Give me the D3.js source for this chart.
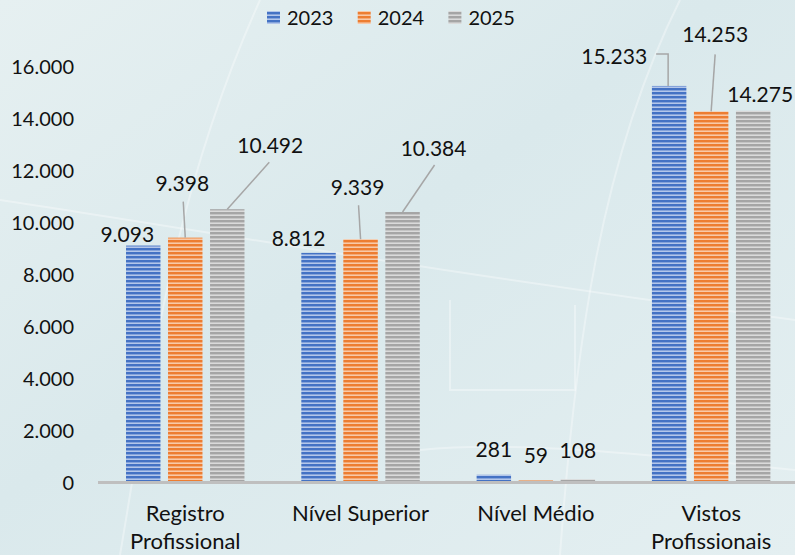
<!DOCTYPE html>
<html>
<head>
<meta charset="utf-8">
<script src="https://cdn.jsdelivr.net/npm/d3@7"></script>
<style>
  html, body { margin: 0; padding: 0; }
  body { width: 795px; height: 555px; overflow: hidden; }
  svg { display: block; font-family: Lato, "Open Sans", sans-serif; }
</style>
</head>
<body>
<svg id="chart" width="795" height="555"></svg>
<script>
// ---- data ----
const categories = [["Registro", "Profissional"], ["Nível Superior"], ["Nível Médio"], ["Vistos", "Profissionais"]];
const categoryKeys = ["Registro Profissional", "Nível Superior", "Nível Médio", "Vistos Profissionais"];
const seriesNames = ["2023", "2024", "2025"];
const values2023 = [9093, 8812, 281, 15233];
const values2024 = [9398, 9339, 59, 14253];
const values2025 = [10492, 10384, 108, 14275];
const yTicks = [0, 2000, 4000, 6000, 8000, 10000, 12000, 14000, 16000];

// label placement (offset of label centre from bar top-centre) and leader lines
const labelOffsets = [
  [[-16, -11], [-3, -54], [43, -64]],
  [[-20, -14], [-3, -52], [31, -64]],
  [[0, -25], [0, -25], [0, -29]],
  [[-55, -30], [4, -77], [7, -16]]
];
// leader start relative to label centre; null = no leader; elbow = horizontal then vertical
const leaders = [
  [null, [1, 18], [-1, 17]],
  [null, [1, 18], [1, 17]],
  [null, null, null],
  [{ elbow: true, start: [42, -2] }, [0, 20], null]
];

const seriesValues = [values2023, values2024, values2025];
const colors = ["#4472c4", "#ed7d31", "#a5a5a5"];
const lightColors = ["#b3c6ea", "#f8c9a8", "#dadada"];

const svg = d3.select("#chart");
const W = 795, H = 555;
const defs = svg.append("defs");

// background gradient
const bg = defs.append("linearGradient").attr("id", "bg")
  .attr("x1", "0").attr("y1", "0").attr("x2", "1").attr("y2", "1");
bg.append("stop").attr("offset", "0").attr("stop-color", "#e6f0f1");
bg.append("stop").attr("offset", "0.45").attr("stop-color", "#dae9ec");
bg.append("stop").attr("offset", "1").attr("stop-color", "#e4eff1");
svg.append("rect").attr("width", W).attr("height", H).attr("fill", "url(#bg)");

// faint decorative curves
const deco = svg.append("g").attr("fill", "none").attr("stroke", "#ffffff").attr("stroke-opacity", 0.35).attr("stroke-width", 2);
deco.append("path").attr("d", "M120,555 C150,380 170,200 260,0");
deco.append("path").attr("d", "M560,555 C575,350 600,160 680,0");
deco.append("path").attr("d", "M0,200 C200,230 420,270 795,320");
deco.append("path").attr("d", "M450,300 L450,390 L575,390 L575,305");
deco.append("path").attr("d", "M420,450 C520,440 650,455 795,470");

// stripe patterns
colors.forEach((c, i) => {
  const g = defs.append("linearGradient").attr("id", "sg" + i)
    .attr("x1", "0").attr("y1", "0").attr("x2", "0").attr("y2", "1");
  g.append("stop").attr("offset", "0").attr("stop-color", c);
  g.append("stop").attr("offset", "0.45").attr("stop-color", c);
  g.append("stop").attr("offset", "0.75").attr("stop-color", lightColors[i]);
  g.append("stop").attr("offset", "1").attr("stop-color", lightColors[i]);
  const p = defs.append("pattern").attr("id", "stripe" + i)
    .attr("patternUnits", "userSpaceOnUse").attr("width", 40).attr("height", 4);
  p.append("rect").attr("width", 40).attr("height", 4).attr("fill", "url(#sg" + i + ")");
});

// scales
const x0 = d3.scaleBand().domain(categoryKeys).range([97.6, 798.8]).paddingInner(0.281).paddingOuter(0.1405);
const x1 = d3.scaleBand().domain(seriesNames).range([0, x0.bandwidth()]).paddingInner(0.18).paddingOuter(0.09);
const y = d3.scaleLinear().domain([0, 16000]).range([482, 66]);

const locale = d3.formatLocale({ decimal: ",", thousands: ".", grouping: [3], currency: ["", ""] });
const fmt = locale.format(",d");

// y axis labels
const yAxis = d3.axisLeft(y).tickValues(yTicks).tickFormat(fmt).tickSize(0).tickPadding(0);
const yg = svg.append("g").attr("transform", "translate(74,0)").call(yAxis);
yg.select(".domain").remove();
yg.selectAll("text").attr("font-size", 20).attr("fill", "#111").attr("font-family", "Lato, sans-serif").attr("dy", "0.36em");

// bars
const groups = svg.append("g").selectAll("g").data(categoryKeys).join("g")
  .attr("transform", d => `translate(${x0(d)},0)`);
groups.each(function (cat, ci) {
  const g = d3.select(this);
  seriesNames.forEach((s, si) => {
    const v = seriesValues[si][ci];
    g.append("rect")
      .attr("x", x1(s))
      .attr("y", y(v))
      .attr("width", x1.bandwidth())
      .attr("height", y(0) - y(v))
      .attr("fill", "url(#stripe" + si + ")");
  });
});

// axis line
const xAxis = d3.axisBottom(x0).tickSize(0).tickFormat("");
const xg = svg.append("g").attr("transform", "translate(0,482.5)").call(xAxis);
xg.select(".domain").attr("stroke", "#bfbfbf").attr("stroke-width", 3).attr("d", `M98,0H${W}`);

// category labels
categoryKeys.forEach((k, ci) => {
  const cx = x0(k) + x0.bandwidth() / 2;
  const t = svg.append("text").attr("x", cx).attr("y", 521).attr("text-anchor", "middle")
    .attr("font-size", 22).attr("fill", "#111");
  categories[ci].forEach((line, li) => {
    t.append("tspan").attr("x", cx).attr("dy", li === 0 ? 0 : 28).text(line);
  });
});

// data labels + leaders
const lbl = svg.append("g");
categoryKeys.forEach((k, ci) => {
  seriesNames.forEach((s, si) => {
    const v = seriesValues[si][ci];
    const bx = x0(k) + x1(s) + x1.bandwidth() / 2;
    const by = y(v);
    const [dx, dy] = labelOffsets[ci][si];
    const lx = bx + dx, ly = by + dy;
    const L = leaders[ci][si];
    if (L) {
      if (L.elbow) {
        const sx = lx + L.start[0], sy = ly + L.start[1];
        lbl.append("path").attr("d", `M${sx},${sy}H${bx - 1}V${by}`)
          .attr("fill", "none").attr("stroke", "#a6a6a6").attr("stroke-width", 1.5);
      } else {
        lbl.append("line").attr("x1", lx + L[0]).attr("y1", ly + L[1]).attr("x2", bx).attr("y2", by)
          .attr("stroke", "#a6a6a6").attr("stroke-width", 1.5);
      }
    }
    lbl.append("text").attr("x", lx).attr("y", ly).attr("dy", "0.36em")
      .attr("text-anchor", "middle").attr("font-size", 21).attr("fill", "#111")
      .text(fmt(v));
  });
});

// legend
const legend = svg.append("g");
seriesNames.forEach((s, i) => {
  const lx = 267 + i * 90.7;
  legend.append("rect").attr("x", lx).attr("y", 11).attr("width", 13).attr("height", 13)
    .attr("fill", "url(#stripe" + i + ")");
  legend.append("text").attr("x", lx + 20).attr("y", 17.5).attr("dy", "0.36em")
    .attr("font-size", 20).attr("fill", "#111").text(s);
});
</script>
</body>
</html>
